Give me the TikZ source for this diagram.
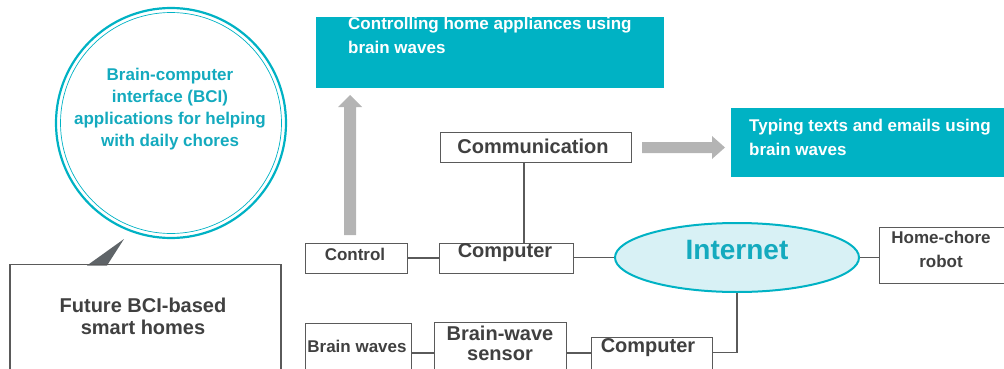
\documentclass[tikz,border=0pt]{standalone}
\usepackage{fontspec}
\setmainfont{Liberation Sans}
\usetikzlibrary{shapes.geometric,shapes.arrows}
\definecolor{teal1}{RGB}{0,178,196}
\definecolor{tealtxt}{RGB}{20,170,190}
\definecolor{lightc}{RGB}{216,241,245}
\definecolor{boxln}{RGB}{90,90,90}
\definecolor{txt}{RGB}{64,64,64}
\definecolor{arrowg}{RGB}{180,180,180}
\definecolor{calloutg}{RGB}{95,100,104}
\tikzset{
  box/.style={draw=boxln,line width=1.4pt,fill=white,inner sep=0pt},
  lbl/.style={text=txt,font=\bfseries,align=center,inner sep=0pt},
  wire/.style={draw=boxln,line width=1.4pt},
  tealbox/.style={fill=teal1,draw=none},
  wtxt/.style={text=white,font=\fontsize{17}{23.5}\selectfont\bfseries,align=left,anchor=north west,inner sep=0pt},
}
\begin{document}
\begin{tikzpicture}[x=1pt,y=-1pt]
\useasboundingbox (0,0) rectangle (1004,369);
% circle
\node[circle,draw=teal1,line width=2.2pt,minimum size=230pt,inner sep=0pt] (circ) at (171,123) {};
\draw[teal1,line width=0.7pt] (171,123) circle (110.5);
\node[text=tealtxt,font=\fontsize{17}{22}\selectfont\bfseries,align=center,inner sep=0pt] (circtxt) at (170,109) {Brain-computer\\interface (BCI)\\applications for helping\\with daily chores};
% callout box
\fill[calloutg] (124,239) -- (87,265.5) -- (107,265.5) -- cycle;
\draw[boxln,line width=1.4pt] (10,376) -- (10,264.5) -- (281,264.5) -- (281,376);
\node[lbl,font=\fontsize{20}{22}\selectfont\bfseries] (future) at (143,316) {Future BCI-based\\smart homes};
% teal boxes
\node[tealbox,minimum width=348pt,minimum height=71pt,inner sep=0pt,anchor=north west] (tb1) at (316,17) {};
\node[wtxt] (tb1t) at (348,17) {Controlling home appliances using\\brain waves};
\node[tealbox,minimum width=290pt,minimum height=69pt,inner sep=0pt,anchor=north west] (tb2) at (731,108) {};
\node[wtxt] (tb2t) at (749,119) {Typing texts and emails using\\brain waves};
% arrows
\fill[arrowg] (344,235) -- (344,107) -- (338,107) -- (350,95) -- (362,107) -- (356,107) -- (356,235) -- cycle;
\fill[arrowg] (642,142) -- (712,142) -- (712,136) -- (725,147.5) -- (712,159) -- (712,153) -- (642,153) -- cycle;
% boxes
\node[box,minimum width=191pt,minimum height=30pt,anchor=north west] (comm) at (440,132) {};
\node[lbl,font=\fontsize{20}{22}\selectfont\bfseries] at (533,146) {Communication};
\node[box,minimum width=102pt,minimum height=30pt,anchor=north west] (ctrl) at (305,243) {};
\node[lbl,font=\fontsize{17}{20}\selectfont\bfseries] at (355,254.5) {Control};
\node[box,minimum width=134pt,minimum height=30pt,anchor=north west] (comp1) at (439,243) {};
\node[lbl,font=\fontsize{20}{22}\selectfont\bfseries] at (505,252.5) {Computer};
\node[ellipse,draw=teal1,fill=lightc,line width=2pt,minimum width=244pt,minimum height=69pt,inner sep=0pt] (inet) at (737,257.5) {};
\node[text=tealtxt,font=\fontsize{28}{30}\selectfont\bfseries,inner sep=0pt] at (737,250) {Internet};
\node[box,minimum width=160pt,minimum height=56pt,anchor=north west] (robot) at (879,227) {};
\node[lbl,font=\fontsize{17}{24}\selectfont\bfseries] at (941,249) {Home-chore\\robot};
\node[box,minimum width=106pt,minimum height=60pt,anchor=north west] (bw) at (305,323) {};
\node[lbl,font=\fontsize{17}{20}\selectfont\bfseries] at (357,346.5) {Brain waves};
\node[box,minimum width=132pt,minimum height=60pt,anchor=north west] (sens) at (434,322) {};
\node[lbl,font=\fontsize{20}{20}\selectfont\bfseries] at (500,343.5) {Brain-wave\\sensor};
\node[box,minimum width=121pt,minimum height=45pt,anchor=north west] (comp2) at (591,337) {};
\node[lbl,font=\fontsize{20}{22}\selectfont\bfseries] at (648,348) {Computer};
% wires
\coordinate (commdrop) at (524,162);
\draw[wire] (commdrop) -- (comp1.north -| commdrop);
\draw[wire] (ctrl.east |- 0,258) -- (comp1.west |- 0,258);
\draw[wire] (comp1.east |- inet.west) -- (inet.west);
\draw[wire] (inet.east) -- (robot.west |- inet.east);
\draw[wire] (inet.south) -- (737,352.5) -- (comp2.east |- 0,352.5);
\draw[wire] (bw.east |- 0,353) -- (sens.west |- 0,353);
\draw[wire] (sens.east |- 0,353) -- (comp2.west |- 0,353);
\end{tikzpicture}
\end{document}
